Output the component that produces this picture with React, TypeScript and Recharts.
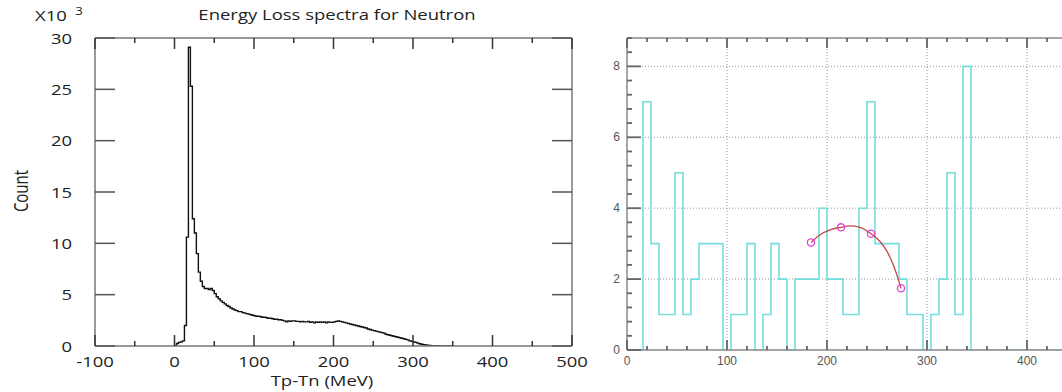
import { ComposedChart, Line, Scatter, XAxis, YAxis, ReferenceLine } from 'recharts';

// left panel: energy loss spectrum, 2.5 MeV bins starting at 0, counts in units of 10^3
const lossBinWidth = 2.5;
const lossCounts = [
  0.05, 0.25, 0.35, 0.4, 0.5, 2.0, 10.6, 29.1, 25.3, 12.4,
  11.0, 9.0, 7.2, 6.3, 5.8, 5.6, 5.6, 5.5, 5.6, 5.4,
  5.1, 4.8, 4.6, 4.4, 4.25, 4.1, 3.95, 3.85, 3.7, 3.6,
  3.5, 3.45, 3.35, 3.35, 3.25, 3.2, 3.15, 3.1, 3.05, 3.0,
  2.95, 2.9, 2.9, 2.85, 2.8, 2.8, 2.75, 2.7, 2.7, 2.65,
  2.6, 2.6, 2.55, 2.55, 2.5, 2.45, 2.35, 2.45, 2.4, 2.45,
  2.45, 2.4, 2.4, 2.35, 2.4, 2.35, 2.35, 2.4, 2.3, 2.35,
  2.25, 2.35, 2.3, 2.35, 2.3, 2.35, 2.25, 2.35, 2.3, 2.3,
  2.35, 2.4, 2.45, 2.4, 2.35, 2.3, 2.25, 2.2, 2.15, 2.1,
  2.05, 2.0, 1.95, 1.9, 1.85, 1.8, 1.75, 1.65, 1.6, 1.55,
  1.5, 1.45, 1.4, 1.35, 1.3, 1.25, 1.15, 1.1, 1.05, 1.0,
  0.95, 0.9, 0.85, 0.8, 0.75, 0.7, 0.65, 0.6, 0.5, 0.45,
  0.4, 0.35, 0.28, 0.22, 0.17, 0.12, 0.1, 0.07, 0.05, 0.04,
  0.03, 0.02, 0.02, 0.01, 0.01, 0.01, 0.01, 0, 0, 0, 0,
];
const lossTicks = [-100, -50, 0, 50, 100, 150, 200, 250, 300, 350, 400, 450, 500];
const countTicks = [0, 5, 10, 15, 20, 25, 30];

// right panel: 8 MeV bins starting at 0
const binWidth = 8;
const binCounts = [
  0, 0, 7, 3, 1, 1, 5, 1, 2, 3, 3, 3, 0, 1, 1, 3, 0, 1, 3, 2, 0, 2,
  2, 2, 4, 2, 2, 1, 1, 4, 7, 3, 3, 3, 2, 1, 1, 0, 1, 2, 5, 1, 8, 0,
];
const binRangeEnd = 450;
const fitX = [184, 193, 203, 214, 223, 233, 244, 253, 260, 267, 272, 274];
const fitY = [3.03, 3.25, 3.39, 3.46, 3.5, 3.46, 3.28, 3.06, 2.78, 2.35, 1.93, 1.74];
const markerX = [184, 214, 244, 274];
const markerY = [3.03, 3.46, 3.28, 1.74];
const rightXTicks = [0, 20, 40, 60, 80, 100, 120, 140, 160, 180, 200, 220, 240, 260, 280, 300, 320, 340, 360, 380, 400, 420, 440];
const rightYTicks = [0, 0.4, 0.8, 1.2, 1.6, 2, 2.4, 2.8, 3.2, 3.6, 4, 4.4, 4.8, 5.2, 5.6, 6, 6.4, 6.8, 7.2, 7.6, 8, 8.4, 8.8];
const rightGridX = [100, 200, 300, 400];
const rightGridY = [2, 4, 6, 8];

type Side = 'bottom' | 'top' | 'left' | 'right';
interface TickStyle {
  side: Side;
  every: number;
  major: number;
  minor: number;
  labels: boolean;
  gap?: number;
  size?: number;
  color?: string;
  font?: string;
  stretch?: number;
  line: string;
  width: number;
}

// ticks point into the plot; labels only on major ticks
const makeTick = (s: TickStyle) => (props: any) => {
  const { x, y, payload } = props;
  const v = Number(payload.value);
  const r = v / s.every;
  const isMajor = Math.abs(r - Math.round(r)) < 1e-6;
  const len = isMajor ? s.major : s.minor;
  const dx = s.side === 'left' ? len : s.side === 'right' ? -len : 0;
  const dy = s.side === 'bottom' ? -len : s.side === 'top' ? len : 0;
  let label = null;
  if (s.labels && isMajor) {
    const sx = s.stretch || 1;
    const common = { fill: s.color, fontSize: s.size, fontFamily: s.font, dominantBaseline: 'central' as const };
    if (s.side === 'bottom') {
      label = <text transform={`translate(${x},${y + (s.gap || 0)}) scale(${sx},1)`} textAnchor="middle" {...common}>{v}</text>;
    } else if (s.side === 'left') {
      label = <text transform={`translate(${x - (s.gap || 0)},${y}) scale(${sx},1)`} textAnchor="end" {...common}>{v}</text>;
    }
  }
  return (
    <g>
      {len > 0 && <line x1={x} y1={y} x2={x + dx} y2={y + dy} stroke={s.line} strokeWidth={s.width} />}
      {label}
    </g>
  );
};

const leftFont = '"Open Sans", sans-serif';
const rightFont = '"Liberation Sans", Arial, sans-serif';
const stretch = 1.32;
const frame = '#777';

const LeftChart = () => {
  const data = lossCounts.map((c, i) => ({ x: i * lossBinWidth, y: c }));
  const xt = { every: 100, major: 11, minor: 5, line: '#333', width: 1.5, gap: 15, size: 14, color: '#222', font: leftFont, stretch };
  const yt = { every: 5, major: 20, minor: 0, line: '#555', width: 1.5, gap: 23, size: 14, color: '#222', font: leftFont, stretch };
  return (
    <ComposedChart width={600} height={392} margin={{ top: 37, right: 27, bottom: 16, left: 35 }}>
      <XAxis xAxisId="b" type="number" dataKey="x" domain={[-100, 500]} ticks={lossTicks} interval={0}
        tickSize={0} tickMargin={0} tickLine={false} height={30} allowDataOverflow
        axisLine={{ stroke: frame, strokeWidth: 1.5 }} tick={makeTick({ side: 'bottom', labels: true, ...xt })} />
      <XAxis xAxisId="t" orientation="top" type="number" dataKey="x" domain={[-100, 500]} ticks={lossTicks} interval={0}
        tickSize={0} tickMargin={0} tickLine={false} height={1} allowDataOverflow
        axisLine={{ stroke: frame, strokeWidth: 1.5 }} tick={makeTick({ side: 'top', labels: false, ...xt })} />
      <YAxis yAxisId="l" type="number" dataKey="y" domain={[0, 30]} ticks={countTicks} interval={0}
        tickSize={0} tickMargin={0} tickLine={false} width={60} allowDataOverflow
        axisLine={{ stroke: frame, strokeWidth: 1.5 }} tick={makeTick({ side: 'left', labels: true, ...yt })} />
      <YAxis yAxisId="r" orientation="right" type="number" dataKey="y" domain={[0, 30]} ticks={countTicks} interval={0}
        tickSize={0} tickMargin={0} tickLine={false} width={1} allowDataOverflow
        axisLine={{ stroke: frame, strokeWidth: 1.5 }} tick={makeTick({ side: 'right', labels: false, ...yt })} />
      <Line data={data} xAxisId="b" yAxisId="l" dataKey="y" type="stepAfter" stroke="#111" strokeWidth={1.4}
        dot={false} activeDot={false} isAnimationActive={false} />
    </ComposedChart>
  );
};

const RightChart = () => {
  const hist = binCounts.map((c, i) => ({ x: i * binWidth, y: c }));
  hist.push({ x: binRangeEnd, y: 0 });
  const fit = fitX.map((x, i) => ({ x, y: fitY[i] }));
  const markers = markerX.map((x, i) => ({ x, y: markerY[i] }));
  const xt = { every: 100, major: 10, minor: 4, line: '#666', width: 1.8, gap: 11, size: 12, color: '#555', font: rightFont };
  const yt = { every: 2, major: 14, minor: 5, line: '#666', width: 1.8, gap: 7, size: 12, color: '#555', font: rightFont };
  const rf = '#888';
  return (
    <ComposedChart width={560} height={392} margin={{ top: 37, right: 42, bottom: 12, left: 17 }}>
      <XAxis xAxisId="b" type="number" dataKey="x" domain={[0, binRangeEnd]} ticks={rightXTicks} interval={0}
        tickSize={0} tickMargin={0} tickLine={false} height={30} allowDataOverflow
        axisLine={{ stroke: rf, strokeWidth: 1.5 }} tick={makeTick({ side: 'bottom', labels: true, ...xt })} />
      <XAxis xAxisId="t" orientation="top" type="number" dataKey="x" domain={[0, binRangeEnd]} ticks={rightXTicks} interval={0}
        tickSize={0} tickMargin={0} tickLine={false} height={1} allowDataOverflow
        axisLine={{ stroke: rf, strokeWidth: 1.5 }} tick={makeTick({ side: 'top', labels: false, ...xt })} />
      <YAxis yAxisId="l" type="number" dataKey="y" domain={[0, 8.8]} ticks={rightYTicks} interval={0}
        tickSize={0} tickMargin={0} tickLine={false} width={50} allowDataOverflow
        axisLine={{ stroke: rf, strokeWidth: 1.5 }} tick={makeTick({ side: 'left', labels: true, ...yt })} />
      <YAxis yAxisId="r" orientation="right" type="number" dataKey="y" domain={[0, 8.8]} ticks={rightYTicks} interval={0}
        tickSize={0} tickMargin={0} tickLine={false} width={1} allowDataOverflow
        axisLine={{ stroke: rf, strokeWidth: 1.5 }} tick={makeTick({ side: 'right', labels: false, ...yt })} />
      {rightGridX.map((v) => (
        <ReferenceLine key={`gx${v}`} x={v} xAxisId="b" yAxisId="l" stroke="#999" strokeDasharray="1 2" />
      ))}
      {rightGridY.map((v) => (
        <ReferenceLine key={`gy${v}`} y={v} xAxisId="b" yAxisId="l" stroke="#999" strokeDasharray="1 2" />
      ))}
      <Line data={hist} xAxisId="b" yAxisId="l" dataKey="y" type="stepAfter" stroke="#74dede" strokeWidth={1.6}
        dot={false} activeDot={false} isAnimationActive={false} />
      <Line data={fit} xAxisId="b" yAxisId="l" dataKey="y" type="monotone" stroke="#c44a4a" strokeWidth={1.3}
        dot={false} activeDot={false} isAnimationActive={false} />
      <Scatter data={markers} xAxisId="b" yAxisId="l" dataKey="y" isAnimationActive={false}
        shape={(p: any) => <circle cx={p.cx} cy={p.cy} r={3.6} fill="none" stroke="#e040d8" strokeWidth={1.3} />} />
    </ComposedChart>
  );
};

const textBase = { position: 'absolute' as const, fontFamily: leftFont, color: '#222', lineHeight: 1, whiteSpace: 'nowrap' as const };

export default function App() {
  return (
    <div style={{ position: 'absolute', left: 0, top: 0, width: 1062, height: 392, overflow: 'hidden', background: '#fff' }}>
      <div style={{ position: 'absolute', left: 0, top: 0 }}>
        <LeftChart />
      </div>
      <div style={{ position: 'absolute', left: 560, top: 0 }}>
        <RightChart />
      </div>
      <div style={{ ...textBase, left: 337, top: 15, fontSize: 14, transform: `translate(-50%, -50%) scaleX(${stretch})` }}>
        Energy Loss spectra for Neutron
      </div>
      <div style={{ ...textBase, left: 51, top: 16, fontSize: 14, transform: `translate(-50%, -50%) scaleX(${stretch})` }}>
        X10
      </div>
      <div style={{ ...textBase, left: 79, top: 11, fontSize: 10, transform: `translate(-50%, -50%) scaleX(${stretch})` }}>
        3
      </div>
      <div style={{ ...textBase, left: 21, top: 191, fontSize: 15, transform: `translate(-50%, -50%) scaleX(${stretch}) rotate(-90deg)` }}>
        Count
      </div>
      <div style={{ ...textBase, left: 322, top: 381, fontSize: 14, transform: `translate(-50%, -50%) scaleX(${stretch})` }}>
        Tp-Tn (MeV)
      </div>
    </div>
  );
}
